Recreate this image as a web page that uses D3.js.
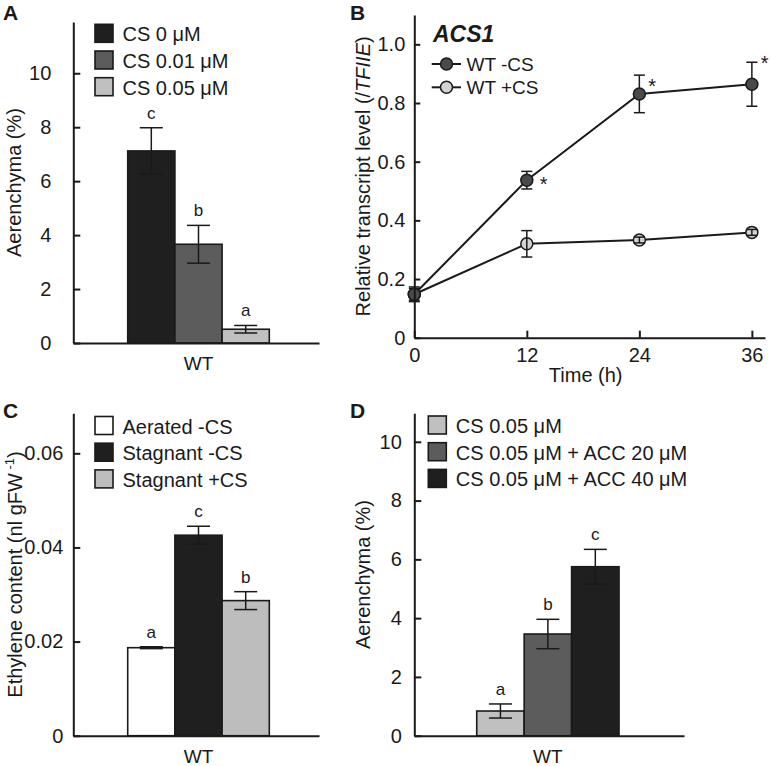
<!DOCTYPE html>
<html><head><meta charset="utf-8">
<script src="https://cdn.jsdelivr.net/npm/d3@7"></script>
<style>
body{margin:0;background:#fff;}
svg text{font-family:"Liberation Sans",Arial,Helvetica,sans-serif;fill:#1a1a1a;}
</style></head><body>
<svg id="chart" width="771" height="766"></svg>
<script>
// ---------- Panel A ----------
const groupsA = ["WT"];
const seriesA = ["CS 0 μM", "CS 0.01 μM", "CS 0.05 μM"];
const valuesA = [7.12, 3.66, 0.51];
const errorsA = [0.86, 0.70, 0.14];
const lettersA = ["c", "b", "a"];
const ticksA = [0, 2, 4, 6, 8, 10];

// ---------- Panel B ----------
const timesB = [0, 12, 24, 36];
const seriesB = ["WT -CS", "WT +CS"];
const valuesBminus = [0.148, 0.537, 0.831, 0.864];
const errorsBminus = [0.025, 0.030, 0.064, 0.075];
const valuesBplus = [0.148, 0.320, 0.333, 0.359];
const errorsBplus = [0.020, 0.045, 0.010, 0.010];
const starsBminus = ["", "*", "*", "*"];
const yTicksB = [0, 0.2, 0.4, 0.6, 0.8, 1.0];
const xTicksB = [0, 12, 24, 36];

// ---------- Panel C ----------
const groupsC = ["WT"];
const seriesC = ["Aerated -CS", "Stagnant -CS", "Stagnant +CS"];
const valuesC = [0.0187, 0.0426, 0.0287];
const errorsC = [0.0002, 0.0019, 0.0019];
const lettersC = ["a", "c", "b"];
const ticksC = [0, 0.02, 0.04, 0.06];

// ---------- Panel D ----------
const groupsD = ["WT"];
const seriesD = ["CS 0.05 μM", "CS 0.05 μM + ACC 20 μM", "CS 0.05 μM + ACC 40 μM"];
const valuesD = [0.84, 3.46, 5.75];
const errorsD = [0.24, 0.50, 0.59];
const lettersD = ["a", "b", "c"];
const ticksD = [0, 2, 4, 6, 8, 10];

const DARK = "#1f1f1f", MID = "#5c5c5c", LIGHT = "#c0c0c0", INK = "#1a1a1a";
const FONT = '"Liberation Sans",Arial,Helvetica,sans-serif';
const svg = d3.select("#chart");

function styleAxis(g) {
  g.attr("font-size", 20).attr("font-family", FONT).attr("color", INK);
  g.select(".domain").attr("stroke-width", 2);
  g.selectAll(".tick line").attr("stroke-width", 2);
}

function panelLetter(txt, x, y) {
  svg.append("text").attr("x", x).attr("y", y).attr("font-size", 21)
    .attr("font-weight", "bold").text(txt);
}

function barPanel(cfg) {
  const y = d3.scaleLinear().domain([0, cfg.yMax]).range([cfg.bottom, cfg.top]);
  const x0 = d3.scaleBand().domain(cfg.groups).range([cfg.left, cfg.right])
    .paddingInner(0).paddingOuter(cfg.po).align(cfg.align);
  const x1 = d3.scaleBand().domain(cfg.series).range([0, x0.bandwidth()]);
  const color = d3.scaleOrdinal().domain(cfg.series).range(cfg.colors);
  const g = svg.append("g");

  const rows = cfg.series.map((s, i) => ({s, v: cfg.values[i], e: cfg.errors[i], l: cfg.letters[i]}));
  const gx = x0(cfg.groups[0]);

  g.selectAll("rect.bar").data(rows).join("rect").attr("class", "bar")
    .attr("x", d => gx + x1(d.s)).attr("width", x1.bandwidth())
    .attr("y", d => y(d.v)).attr("height", d => y(0) - y(d.v))
    .attr("fill", d => color(d.s)).attr("stroke", INK).attr("stroke-width", 1.6);

  const cap = 11.5;
  const eb = g.selectAll("g.eb").data(rows).join("g").attr("class", "eb")
    .attr("stroke", INK).attr("stroke-width", 1.5);
  eb.append("line").attr("x1", d => gx + x1(d.s) + x1.bandwidth() / 2)
    .attr("x2", d => gx + x1(d.s) + x1.bandwidth() / 2)
    .attr("y1", d => y(d.v + d.e)).attr("y2", d => y(d.v - d.e));
  eb.append("line").attr("x1", d => gx + x1(d.s) + x1.bandwidth() / 2 - cap)
    .attr("x2", d => gx + x1(d.s) + x1.bandwidth() / 2 + cap)
    .attr("y1", d => y(d.v + d.e)).attr("y2", d => y(d.v + d.e));
  eb.append("line").attr("x1", d => gx + x1(d.s) + x1.bandwidth() / 2 - cap)
    .attr("x2", d => gx + x1(d.s) + x1.bandwidth() / 2 + cap)
    .attr("y1", d => y(d.v - d.e)).attr("y2", d => y(d.v - d.e));

  g.selectAll("text.sig").data(rows).join("text").attr("class", "sig")
    .attr("x", d => gx + x1(d.s) + x1.bandwidth() / 2)
    .attr("y", d => y(d.v + d.e) - 9).attr("text-anchor", "middle")
    .attr("font-size", 17).text(d => d.l);

  const ya = g.append("g").attr("transform", `translate(${cfg.left},0)`)
    .call(d3.axisLeft(y).tickValues(cfg.ticks).tickSize(-7).tickSizeOuter(0)
      .tickPadding(cfg.tickPad).tickFormat(cfg.fmt));
  styleAxis(ya);
  const xa = g.append("g").attr("transform", `translate(0,${cfg.bottom})`)
    .call(d3.axisBottom(x0).tickSize(0).tickSizeOuter(0).tickPadding(13.5));
  styleAxis(xa);
  xa.attr("font-size", 19);

  // legend
  const leg = g.append("g");
  rows.forEach((d, i) => {
    const yy = cfg.legY + i * 26.7;
    leg.append("rect").attr("x", cfg.legX).attr("y", yy).attr("width", 18).attr("height", 18)
      .attr("fill", color(d.s)).attr("stroke", INK).attr("stroke-width", 1.6);
    leg.append("text").attr("x", cfg.legX + 27.5).attr("y", yy + 17).attr("font-size", 20).text(d.s);
  });

  // y label
  const yl = g.append("text").attr("transform", `translate(${cfg.ylabX},${(cfg.top + cfg.bottom) / 2}) rotate(-90)`)
    .attr("text-anchor", "middle").attr("font-size", 20);
  cfg.ylab(yl);
}

// Panel A
barPanel({
  groups: groupsA, series: seriesA, values: valuesA, errors: errorsA, letters: lettersA,
  ticks: ticksA, yMax: 11.9, top: 22, bottom: 343, left: 73.3, right: 319,
  po: 0.3676, align: 0.5226, colors: [DARK, MID, LIGHT], tickPad: 22,
  fmt: d3.format("d"), legX: 95, legY: 24.3, ylabX: 20.5,
  ylab: t => t.text("Aerenchyma (%)")
});
panelLetter("A", 3, 20);

// Panel C
barPanel({
  groups: groupsC, series: seriesC, values: valuesC, errors: errorsC, letters: lettersC,
  ticks: ticksC, yMax: 0.0685, top: 413.3, bottom: 735.7, left: 73.3, right: 319,
  po: 0.3676, align: 0.5226, colors: ["#ffffff", DARK, "#bdbdbd"], tickPad: 10,
  fmt: d => d === 0 ? "0" : d3.format(".2f")(d), legX: 95, legY: 416.5, ylabX: 21.5,
  ylab: t => { t.append("tspan").text("Ethylene content (nl gFW");
               t.append("tspan").attr("font-size", 13).attr("dy", -8).text(" -1");
               t.append("tspan").attr("dy", 8).text(")"); }
});
panelLetter("C", 3, 418);

// Panel D
barPanel({
  groups: groupsD, series: seriesD, values: valuesD, errors: errorsD, letters: lettersD,
  ticks: ticksD, yMax: 10.97, top: 413.3, bottom: 735.7, left: 414.3, right: 684,
  po: 0.4477, align: 0.49, colors: [LIGHT, MID, DARK], tickPad: 12.5,
  fmt: d3.format("d"), legX: 428.3, legY: 416, ylabX: 370,
  ylab: t => t.text("Aerenchyma (%)")
});
panelLetter("D", 350, 418);

// Panel B
(function () {
  const top = 15, bottom = 337.7, left = 414.3, right = 765;
  const y = d3.scaleLinear().domain([0, 1.1]).range([bottom, top]);
  const x = d3.scaleLinear().domain([0, 37.4]).range([left, right]);
  const g = svg.append("g");
  const line = d3.line().x(d => x(d.t)).y(d => y(d.v));
  const mk = (vals, errs) => timesB.map((t, i) => ({t, v: vals[i], e: errs[i]}));
  const plus = mk(valuesBplus, errorsBplus);
  const minus = mk(valuesBminus, errorsBminus);
  const cap = 5.5;
  function errs(sel, data) {
    const e = sel.selectAll(null).data(data).join("g").attr("stroke", INK).attr("stroke-width", 1.5);
    e.append("line").attr("x1", d => x(d.t)).attr("x2", d => x(d.t)).attr("y1", d => y(d.v + d.e)).attr("y2", d => y(d.v - d.e));
    e.append("line").attr("x1", d => x(d.t) - cap).attr("x2", d => x(d.t) + cap).attr("y1", d => y(d.v + d.e)).attr("y2", d => y(d.v + d.e));
    e.append("line").attr("x1", d => x(d.t) - cap).attr("x2", d => x(d.t) + cap).attr("y1", d => y(d.v - d.e)).attr("y2", d => y(d.v - d.e));
  }
  function markers(sel, data, fill) {
    sel.selectAll(null).data(data).join("circle").attr("cx", d => x(d.t)).attr("cy", d => y(d.v))
      .attr("r", 6).attr("fill", fill).attr("stroke", INK).attr("stroke-width", 1.5);
  }
  const MK_DARK = "#4a4a4a", MK_LIGHT = "#d2d2d2";
  g.append("path").datum(plus).attr("d", line).attr("fill", "none").attr("stroke", INK).attr("stroke-width", 2);
  markers(g.append("g"), plus, MK_LIGHT);
  errs(g.append("g"), plus);
  g.append("path").datum(minus).attr("d", line).attr("fill", "none").attr("stroke", INK).attr("stroke-width", 2);
  errs(g.append("g"), minus);
  markers(g.append("g"), minus, MK_DARK);

  // stars
  const starDx = [0, 13, 9, 9], starDy = [0, 11, -1, -14];
  g.selectAll("text.star").data(minus.map((d, i) => ({...d, s: starsBminus[i], i}))).join("text")
    .attr("class", "star").attr("x", d => x(d.t) + starDx[d.i])
    .attr("y", d => y(d.v) + starDy[d.i]).attr("font-size", 20).text(d => d.s);

  const ya = g.append("g").attr("transform", `translate(${left},0)`)
    .call(d3.axisLeft(y).tickValues(yTicksB).tickSize(-6).tickSizeOuter(0).tickPadding(9)
      .tickFormat(d => d === 0 ? "0" : d3.format(".1f")(d)));
  styleAxis(ya);
  const xa = g.append("g").attr("transform", `translate(0,${bottom})`)
    .call(d3.axisBottom(x).tickValues(xTicksB).tickSize(-7).tickSizeOuter(0).tickPadding(10)
      .tickFormat(d3.format("d")));
  styleAxis(xa);

  g.append("text").attr("x", (left + right) / 2 - 4).attr("y", 382).attr("text-anchor", "middle")
    .attr("font-size", 20).text("Time (h)");
  const yl = g.append("text").attr("transform", `translate(370,${(top + bottom) / 2}) rotate(-90)`)
    .attr("text-anchor", "middle").attr("font-size", 20);
  yl.append("tspan").text("Relative transcript level (/");
  yl.append("tspan").attr("font-style", "italic").text("TFIIE");
  yl.append("tspan").text(")");

  g.append("text").attr("x", 433).attr("y", 41.5).attr("font-size", 23)
    .attr("font-weight", "bold").attr("font-style", "italic").text("ACS1");

  const legFills = [MK_DARK, MK_LIGHT];
  seriesB.forEach((s, i) => {
    const yy = 64 + i * 23.3;
    g.append("line").attr("x1", 431.7).attr("x2", 461).attr("y1", yy).attr("y2", yy)
      .attr("stroke", INK).attr("stroke-width", 2);
    g.append("circle").attr("cx", 446.5).attr("cy", yy).attr("r", 6).attr("fill", legFills[i])
      .attr("stroke", INK).attr("stroke-width", 1.5);
    g.append("text").attr("x", 466.5).attr("y", yy + 7).attr("font-size", 19).text(s);
  });
})();
panelLetter("B", 350, 20);
</script>
</body></html>
